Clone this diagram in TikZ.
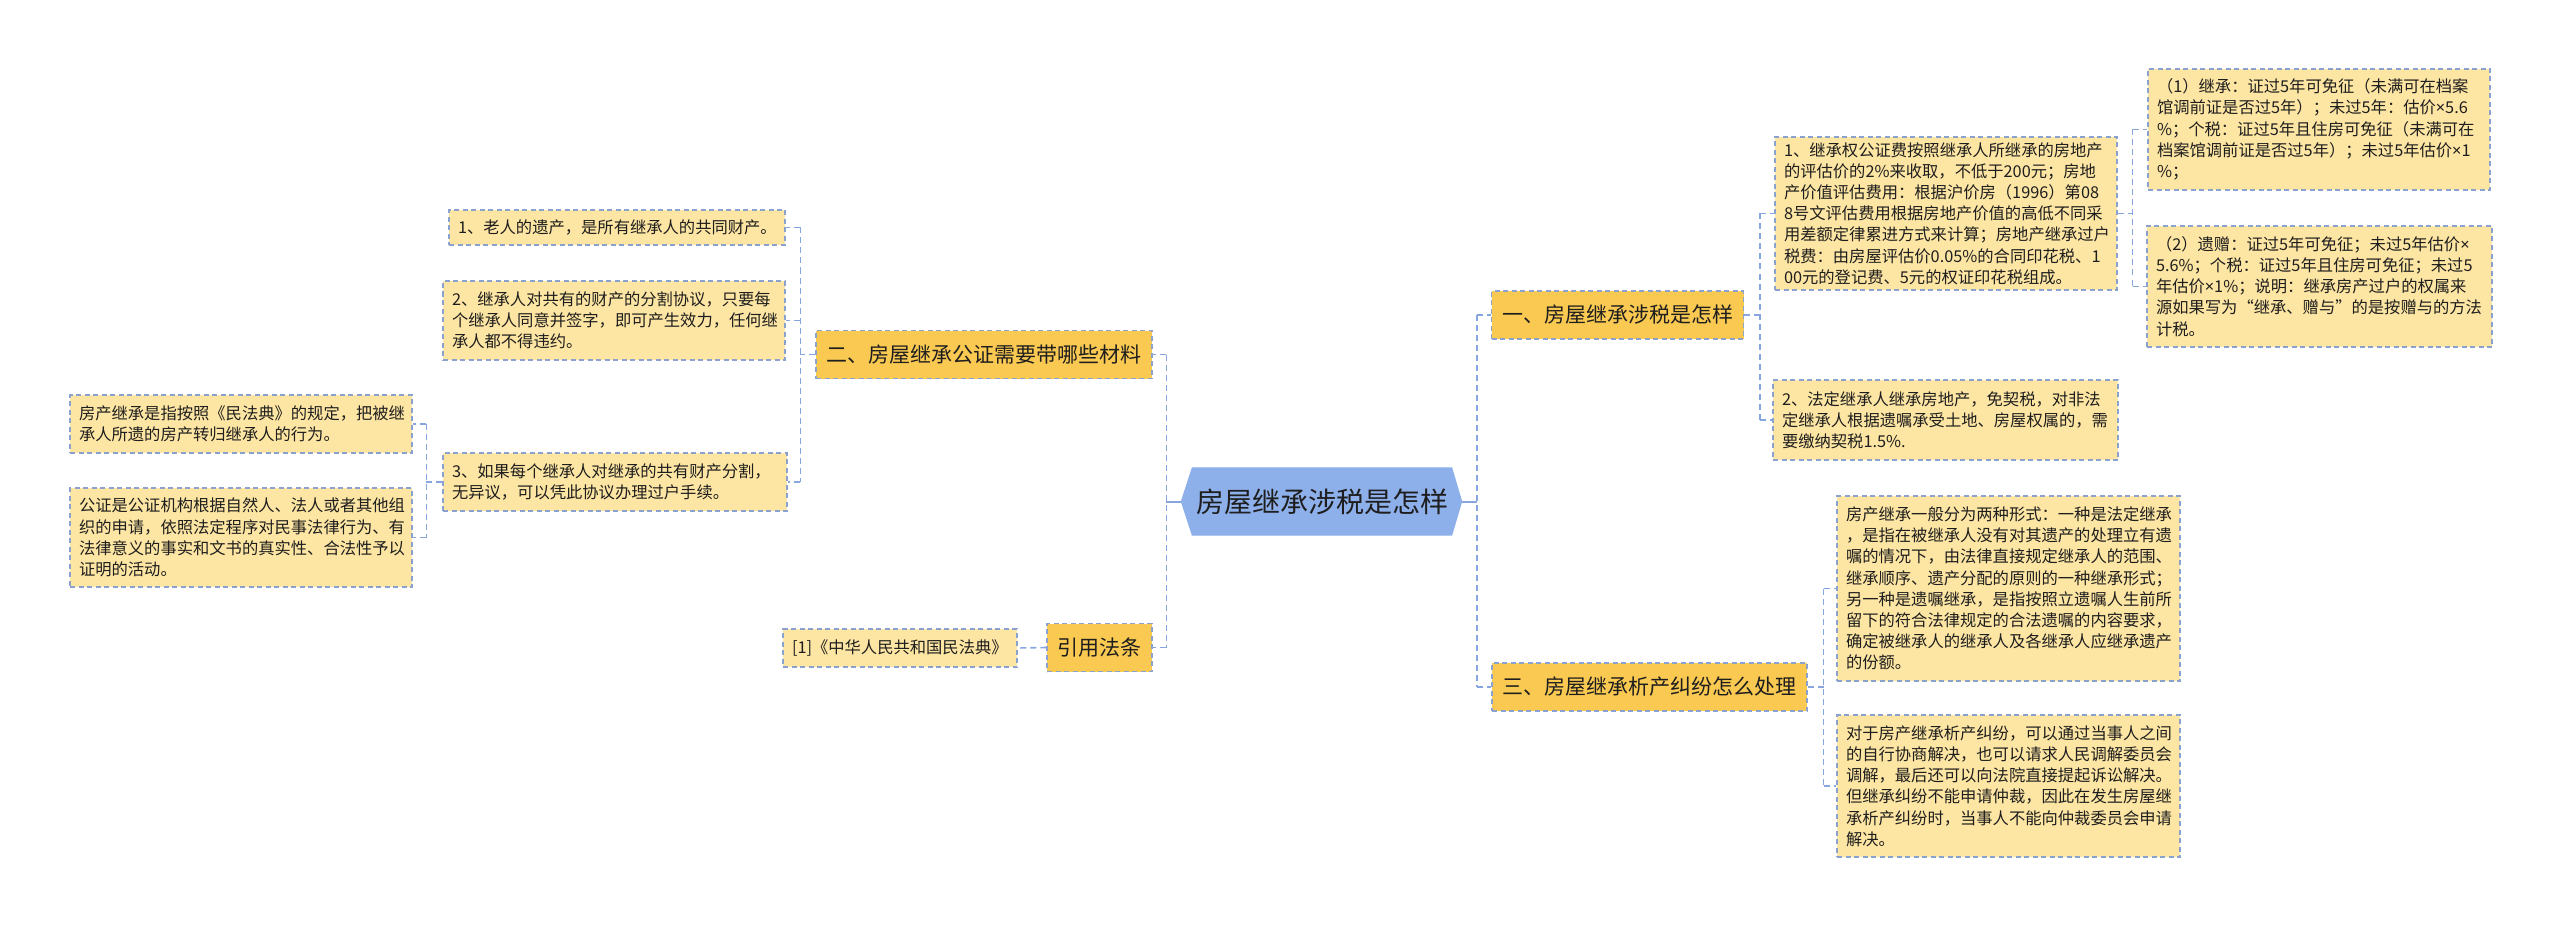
\documentclass[tikz,border=0pt]{standalone}
\usepackage{fontspec}
\setmainfont{Noto Sans CJK SC}
\newfontfamily\latfont{Noto Sans}
\newcommand\timesign{{\latfont ×}}
\usetikzlibrary{backgrounds,calc}
\definecolor{lone}{RGB}{250,201,82}
\definecolor{ltwo}{RGB}{253,229,163}
\definecolor{bord}{RGB}{140,162,206}
\definecolor{conn}{RGB}{135,165,222}
\definecolor{hexc}{RGB}{142,176,234}
\definecolor{txt}{RGB}{30,30,30}
\begin{document}
\begin{tikzpicture}[x=1pt,y=-1pt,
  lvone/.style={draw=bord, fill=lone, dash pattern=on 5pt off 3.5pt, line width=1.3pt,
    font=\fontsize{21}{25}\selectfont, text=txt, inner xsep=10.5pt, inner ysep=0pt, minimum height=48pt},
  lvtwo/.style={draw=bord, fill=ltwo, dash pattern=on 5pt off 3.5pt, line width=1.3pt,
    font=\fontsize{16.3}{21.2}\selectfont, text=txt, align=left, inner xsep=9pt, inner ysep=0pt},
  dims/.style 2 args={text width=#1pt-18pt, minimum height=#2pt},
  link/.style={draw=conn, line width=1.6pt, dash pattern=on 6pt off 4pt},
  hublink/.style={draw=conn, line width=2pt}]
\useasboundingbox (0,0) rectangle (2560,928);

% centre
\node[font=\fontsize{28}{32}\selectfont, text=txt, minimum width=259pt, minimum height=67pt, inner sep=0pt] (c) at (1322,501.5) {房屋继承涉税是怎样};
\begin{scope}[on background layer]
\filldraw[fill=hexc, draw=hexc, line width=1pt] (c.north west) -- (c.north east) -- ([xshift=10pt]c.east) -- (c.south east) -- (c.south west) -- ([xshift=-11pt]c.west) -- cycle;
\end{scope}

% level one
\node[lvone] (l1a) at (1617.5,315) {一、房屋继承涉税是怎样};
\node[lvone] (l1c) at (1649.5,687) {三、房屋继承析产纠纷怎么处理};
\node[lvone] (l1b) at (984,354.5) {二、房屋继承公证需要带哪些材料};
\node[lvone] (l1d) at (1099.5,647.5) {引用法条};

% left level two
\node[lvtwo, dims={336}{35}] (a1) at (617,227.5) {1、老人的遗产，是所有继承人的共同财产。};
\node[lvtwo, dims={342}{79}] (a2) at (614,320.5) {2、继承人对共有的财产的分割协议，只要每\\个继承人同意并签字，即可产生效力，任何继\\承人都不得违约。};
\node[lvtwo, dims={344}{58}] (a3) at (615,482) {3、如果每个继承人对继承的共有财产分割，\\无异议，可以凭此协议办理过户手续。};
\node[lvtwo, dims={342}{58}] (a3a) at (241,424) {房产继承是指按照《民法典》的规定，把被继\\承人所遗的房产转归继承人的行为。};
\node[lvtwo, dims={342}{99}] (a3b) at (241,537.5) {公证是公证机构根据自然人、法人或者其他组\\织的申请，依照法定程序对民事法律行为、有\\法律意义的事实和文书的真实性、合法性予以\\证明的活动。};
\node[lvtwo, dims={234}{38}] (d1) at (900,648) {[1]《中华人民共和国民法典》};

% right level two
\node[lvtwo, dims={342}{153}] (r1) at (1946,213.5) {1、继承权公证费按照继承人所继承的房地产\\的评估价的2\%来收取，不低于200元；房地\\产价值评估费用：根据沪价房（1996）第08\\8号文评估费用根据房地产价值的高低不同采\\用差额定律累进方式来计算；房地产继承过户\\税费：由房屋评估价0.05\%的合同印花税、1\\00元的登记费、5元的权证印花税组成。};
\node[lvtwo, dims={345}{80}] (r2) at (1945.5,420) {2、法定继承人继承房地产，免契税，对非法\\定继承人根据遗嘱承受土地、房屋权属的，需\\要缴纳契税1.5\%.};
\node[lvtwo, dims={342}{121}] (r11) at (2319,129.5) {（1）继承：证过5年可免征（未满可在档案\\馆调前证是否过5年）；未过5年：估价\timesign5.6\\\%；个税：证过5年且住房可免征（未满可在\\档案馆调前证是否过5年）；未过5年估价\timesign1\\\%；};
\node[lvtwo, dims={345}{121}] (r12) at (2319.5,286.5) {（2）遗赠：证过5年可免征；未过5年估价\timesign\\5.6\%；个税：证过5年且住房可免征；未过5\\年估价\timesign1\%；说明：继承房产过户的权属来\\源如果写为“继承、赠与”的是按赠与的方法\\计税。};
\node[lvtwo, dims={343}{185}] (r31) at (2008.5,588.5) {房产继承一般分为两种形式：一种是法定继承\\，是指在被继承人没有对其遗产的处理立有遗\\嘱的情况下，由法律直接规定继承人的范围、\\继承顺序、遗产分配的原则的一种继承形式；\\另一种是遗嘱继承，是指按照立遗嘱人生前所\\留下的符合法律规定的合法遗嘱的内容要求，\\确定被继承人的继承人及各继承人应继承遗产\\的份额。};
\node[lvtwo, dims={343}{142}] (r32) at (2008.5,786) {对于房产继承析产纠纷，可以通过当事人之间\\的自行协商解决，也可以请求人民调解委员会\\调解，最后还可以向法院直接提起诉讼解决。\\但继承纠纷不能申请仲裁，因此在发生房屋继\\承析产纠纷时，当事人不能向仲裁委员会申请\\解决。};

% connectors: centre
\coordinate (cl) at ([xshift=-11pt]c.west);
\coordinate (cr) at ([xshift=10pt]c.east);
\coordinate (bl) at ([xshift=-15pt]cl);
\coordinate (br) at ([xshift=15pt]cr);
\draw[hublink] (cl) -- (bl);
\draw[hublink] (cr) -- (br);
\draw[link] (bl |- l1b.east) -- (bl |- l1d.east);
\draw[link] (bl |- l1b.east) -- (l1b.east);
\draw[link] (bl |- l1d.east) -- (l1d.east);
\draw[link] (br |- l1a.west) -- (br |- l1c.west);
\draw[link] (br |- l1a.west) -- (l1a.west);
\draw[link] (br |- l1c.west) -- (l1c.west);

% l1b children
\coordinate (b2) at ([xshift=-15pt]l1b.west);
\draw[link] (l1b.west) -- (b2);
\draw[link] (b2 |- a1.east) -- (b2 |- a3.east);
\draw[link] (b2 |- a1.east) -- (a1.east);
\draw[link] (b2 |- a2.east) -- (a2.east);
\draw[link] (b2 |- a3.east) -- (a3.east);

% a3 children
\coordinate (b3) at ([xshift=-16pt]a3.west);
\draw[link] (a3.west) -- (b3);
\draw[link] (b3 |- a3a.east) -- (b3 |- a3b.east);
\draw[link] (b3 |- a3a.east) -- (a3a.east);
\draw[link] (b3 |- a3b.east) -- (a3b.east);

% l1d child
\draw[link] (l1d.west) -- (d1.east);

% l1a children
\coordinate (b4) at ([xshift=16pt]l1a.east);
\draw[link] (l1a.east) -- (b4);
\draw[link] (b4 |- r1.west) -- (b4 |- r2.west);
\draw[link] (b4 |- r1.west) -- (r1.west);
\draw[link] (b4 |- r2.west) -- (r2.west);

% r1 children
\coordinate (b5) at ([xshift=15pt]r1.east);
\draw[link] (r1.east) -- (b5);
\draw[link] (b5 |- r11.west) -- (b5 |- r12.west);
\draw[link] (b5 |- r11.west) -- (r11.west);
\draw[link] (b5 |- r12.west) -- (r12.west);

% l1c children
\coordinate (b6) at ([xshift=16pt]l1c.east);
\draw[link] (l1c.east) -- (b6);
\draw[link] (b6 |- r31.west) -- (b6 |- r32.west);
\draw[link] (b6 |- r31.west) -- (r31.west);
\draw[link] (b6 |- r32.west) -- (r32.west);
\end{tikzpicture}
\end{document}
